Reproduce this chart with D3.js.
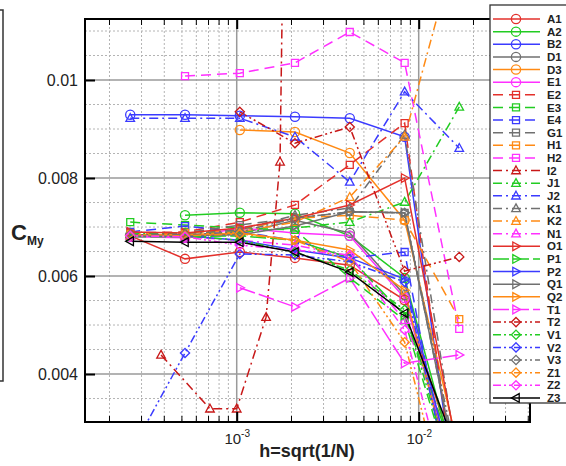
<!DOCTYPE html>
<html>
<head>
<meta charset="utf-8">
<script src="https://cdn.jsdelivr.net/npm/d3@7"></script>
<style>
  body { margin: 0; background: #fff; }
  text { font-family: "Liberation Sans", Arial, sans-serif; }
</style>
</head>
<body>
<div id="chart"></div>
<script>
// h values shared by most runs
var hValues = [0.00026, 0.00052, 0.00104, 0.00209, 0.00418, 0.00837, 0.0167];
// I2 was sampled at other h
var hI2 = [0.000384, 0.000713, 0.00100, 0.00145, 0.00173, 0.00209];

var names = ["A1","A2","B2","D1","D3","E1","E2","E3","E4","G1","H1","H2","I2","J1","J2","K1","K2","N1",
             "O1","P1","P2","Q1","Q2","T1","T2","V1","V2","V3","Z1","Z2","Z3"];

var A1 = [0.00682, 0.00635, 0.00649, 0.00637, 0.00622, 0.00551, 0.00204];
var A2 = [null, 0.00724, 0.00729, 0.00727, 0.00682, 0.00596, 0.00184];
var B2 = [0.00929, 0.00929, 0.00927, 0.00925, 0.00922, 0.00884, 0.00102];
var D1 = [0.00684, 0.00682, 0.00686, 0.00714, 0.00688, 0.00561, 0.00143];
var D3 = [null, null, 0.00898, 0.00894, 0.00851, 0.00714, 0.00239];
var E1 = [0.00680, 0.00678, 0.00698, 0.00688, 0.00682, 0.00555, 0.00163];
var E2 = [0.00688, 0.00690, 0.00710, 0.00745, 0.00827, 0.00912, 0.00102];
var E3 = [0.00710, 0.00704, 0.00698, 0.00694, 0.00596, 0.00510, 0.00143];
var E4 = [0.00690, 0.00702, 0.00690, 0.00673, 0.00637, 0.00649, 0.00061];
var G1 = [0.00686, 0.00688, 0.00704, 0.00718, 0.00731, 0.00729, 0.00184];
var H1 = [0.00686, 0.00688, 0.00694, 0.00718, 0.00724, 0.00714, 0.00512];
var H2 = [null, 0.01008, 0.01014, 0.01035, 0.01098, 0.01035, 0.00492];
var I2 = [0.00439, 0.00329, 0.00329, 0.00516, 0.00833, 0.0302];
var J1 = [0.00686, 0.00688, 0.00690, 0.00698, 0.00710, 0.00751, 0.00945];
var J2 = [0.00922, 0.00922, 0.00922, 0.00884, 0.00792, 0.00976, 0.00861];
var K1 = [0.00684, 0.00686, 0.00694, 0.00724, 0.00739, 0.00888, 0.00204];
var K2 = [0.00682, 0.00684, 0.00690, 0.00710, 0.00761, 0.00884, 0.01294];
var N1 = [0.00682, 0.00680, 0.00673, 0.00663, 0.00641, 0.00510, 0.00204];
var O1 = [0.00690, 0.00688, 0.00698, 0.00718, 0.00745, 0.00800, 0.00224];
var P1 = [0.00680, 0.00680, 0.00682, 0.00673, 0.00637, 0.00520, 0.00204];
var P2 = [0.00682, 0.00682, 0.00673, 0.00653, 0.00637, 0.00594, 0.00143];
var Q1 = [0.00682, 0.00682, 0.00684, 0.00702, 0.00731, 0.00729, 0.00184];
var Q2 = [0.00684, 0.00684, 0.00688, 0.00673, 0.00653, 0.00571, 0.00122];
var T1 = [null, null, 0.00576, 0.00537, 0.00596, 0.00422, 0.00439];
var T2 = [null, null, 0.00935, 0.00871, 0.00904, 0.00610, 0.00639];
var V1 = [0.00682, 0.00682, 0.00673, 0.00649, 0.00612, 0.00531, 0.00143];
var V2 = [0.00239, 0.00443, 0.00645, 0.00643, 0.00629, 0.00588, 0.00102];
var V3 = [0.00684, 0.00684, 0.00690, 0.00718, 0.00731, 0.00729, 0.00204];
var Z1 = [0.00682, 0.00682, 0.00686, 0.00673, 0.00629, 0.00465, 0.00020];
var Z2 = [0.00682, 0.00680, 0.00663, 0.00653, 0.00643, 0.00490, 0.00061];
var Z3 = [0.00671, 0.00669, 0.00669, 0.00649, 0.00608, 0.00524, 0.00233];

var yTicks = [0.004, 0.006, 0.008, 0.01];
var xTicks = [1e-3, 1e-2];
var xTickExp = ["-3", "-2"];

var seriesValues = {A1:A1,A2:A2,B2:B2,D1:D1,D3:D3,E1:E1,E2:E2,E3:E3,E4:E4,G1:G1,H1:H1,H2:H2,I2:I2,
  J1:J1,J2:J2,K1:K1,K2:K2,N1:N1,O1:O1,P1:P1,P2:P2,Q1:Q1,Q2:Q2,T1:T1,T2:T2,V1:V1,V2:V2,V3:V3,Z1:Z1,Z2:Z2,Z3:Z3};

// colours / line styles / markers
var red = "#e3302b", dred = "#c81818", green = "#22cc22", blue = "#3b3bff",
    gray = "#707070", orange = "#ff8a14", magenta = "#ff30ff";
var colorOf = {A1:red,A2:green,B2:blue,D1:gray,D3:orange,E1:magenta,E2:red,E3:green,E4:blue,G1:gray,H1:orange,H2:magenta,
  I2:dred,J1:green,J2:blue,K1:gray,K2:orange,N1:magenta,O1:red,P1:green,P2:blue,Q1:gray,Q2:orange,T1:magenta,
  T2:dred,V1:green,V2:blue,V3:gray,Z1:orange,Z2:magenta,Z3:"#000"};
function styleOf(n) {
  var g = names.indexOf(n);
  if (g < 6) return {dash: null, mark: "circle"};
  if (g < 12) return {dash: "10,6", mark: "square"};
  if (g < 18) return {dash: "9,4,2,4", mark: "tri"};
  if (g < 24) return {dash: (n == "P1" || n == "T1") ? "16,4" : null, mark: "right"};
  if (g < 30) return {dash: "8,3,2,3,2,3", mark: "diamond"};
  return {dash: null, mark: "left"};
}
var markPath = {
  square: "M-3.5,-3.5h7v7h-7Z",
  tri: "M0,-4.6L4.3,3.2L-4.3,3.2Z",
  right: "M-3.2,-4.3L4.6,0L-3.2,4.3Z",
  left: "M3.2,-4.3L-4.6,0L3.2,4.3Z",
  diamond: "M0,-4.6L4.6,0L0,4.6L-4.6,0Z"
};

var W = 566, H = 466;
var svg = d3.select("#chart").append("svg").attr("width", W).attr("height", H);

var x = d3.scaleLog().domain([1.467e-4, 0.04088]).range([85, 530]);
var y = d3.scaleLinear().domain([0.003021, 0.011245]).range([422, 19]);

// left edge of neighbouring panel
svg.append("path").attr("d", "M0,10H3V381H0").attr("fill", "none").attr("stroke", "#333").attr("stroke-width", 1.5);

// grid
var minorX = [];
[1e-4, 1e-3, 1e-2].forEach(function(dec) {
  for (var k = 2; k <= 9; k++) {
    var v = k * dec;
    if (v > x.domain()[0] && v < x.domain()[1]) minorX.push(v);
  }
});
var minorY = d3.range(0.0035, 0.0112, 0.0005).filter(function(v) {
  return yTicks.every(function(t) { return Math.abs(t - v) > 1e-7; });
});
var grid = svg.append("g");
grid.selectAll(".gx").data(minorX).enter().append("line")
  .attr("x1", d => x(d)).attr("x2", d => x(d)).attr("y1", 19).attr("y2", 422)
  .attr("stroke", "#b4b4b4").attr("stroke-width", 1).attr("stroke-dasharray", "2,2");
grid.selectAll(".gy").data(minorY).enter().append("line")
  .attr("x1", 85).attr("x2", 530).attr("y1", d => y(d)).attr("y2", d => y(d))
  .attr("stroke", "#b4b4b4").attr("stroke-width", 1).attr("stroke-dasharray", "2,2");
grid.selectAll(".gX").data(xTicks).enter().append("line")
  .attr("x1", d => x(d)).attr("x2", d => x(d)).attr("y1", 19).attr("y2", 422)
  .attr("stroke", "#9a9a9a").attr("stroke-width", 1.5);
grid.selectAll(".gY").data(yTicks).enter().append("line")
  .attr("x1", 85).attr("x2", 530).attr("y1", d => y(d)).attr("y2", d => y(d))
  .attr("stroke", "#9a9a9a").attr("stroke-width", 1.5);

// data
svg.append("clipPath").attr("id", "clip").append("rect").attr("x", 85).attr("y", 19).attr("width", 445).attr("height", 403);
var plot = svg.append("g").attr("clip-path", "url(#clip)");
var line = d3.line().defined(d => d.v != null).x(d => x(d.h)).y(d => y(d.v));

names.forEach(function(n) {
  var hs = n == "I2" ? hI2 : hValues;
  var pts = seriesValues[n].map(function(v, i) { return {h: hs[i], v: v}; });
  var st = styleOf(n);
  plot.append("path").datum(pts).attr("d", line).attr("fill", "none")
    .attr("stroke", colorOf[n]).attr("stroke-width", 1.5)
    .attr("stroke-dasharray", st.dash);
});
names.forEach(function(n) {
  var hs = n == "I2" ? hI2 : hValues;
  var pts = seriesValues[n].map(function(v, i) { return {h: hs[i], v: v}; }).filter(d => d.v != null);
  var st = styleOf(n);
  var sel = plot.selectAll(".m" + n).data(pts).enter();
  if (st.mark == "circle") {
    sel.append("circle").attr("cx", d => x(d.h)).attr("cy", d => y(d.v)).attr("r", 4.6)
      .attr("fill", "none").attr("stroke", colorOf[n]).attr("stroke-width", 1.3);
  } else {
    sel.append("path").attr("d", markPath[st.mark])
      .attr("transform", d => "translate(" + x(d.h) + "," + y(d.v) + ")")
      .attr("fill", "none").attr("stroke", colorOf[n]).attr("stroke-width", 1.3);
  }
});

// axes (ticks inside)
var axL = svg.append("g").attr("transform", "translate(85,0)")
  .call(d3.axisLeft(y).tickValues(yTicks).tickSize(-10).tickPadding(7).tickFormat(d => String(d)));
axL.select(".domain").remove();
axL.selectAll("line").attr("stroke", "#000").attr("stroke-width", 2);
axL.selectAll("text").attr("font-size", 16).attr("fill", "#222");

var axB = svg.append("g").attr("transform", "translate(0,422)")
  .call(d3.axisBottom(x).tickValues(xTicks).tickSize(-10).tickFormat(""));
axB.select(".domain").remove();
axB.selectAll("line").attr("stroke", "#000").attr("stroke-width", 2);
axB.selectAll(".tick").append("text").attr("fill", "#222").attr("font-size", 15)
  .attr("text-anchor", "middle").attr("y", 22)
  .each(function(d, i) {
    var t = d3.select(this);
    t.append("tspan").text("10");
    t.append("tspan").attr("font-size", 10).attr("dy", -7).text(xTickExp[i]);
  });
var axT = svg.append("g").attr("transform", "translate(0,19)")
  .call(d3.axisTop(x).tickValues(xTicks).tickSize(-10).tickFormat(""));
axT.select(".domain").remove();
axT.selectAll("line").attr("stroke", "#000").attr("stroke-width", 2);

// minor ticks top / bottom
svg.selectAll(".mtb").data(minorX).enter().append("line")
  .attr("x1", d => x(d)).attr("x2", d => x(d)).attr("y1", 19).attr("y2", 25)
  .attr("stroke", "#000").attr("stroke-width", 1);
svg.selectAll(".mtt").data(minorX).enter().append("line")
  .attr("x1", d => x(d)).attr("x2", d => x(d)).attr("y1", 416).attr("y2", 422)
  .attr("stroke", "#000").attr("stroke-width", 1);

// frame
svg.append("rect").attr("x", 85).attr("y", 19).attr("width", 445).attr("height", 403)
  .attr("fill", "none").attr("stroke", "#000").attr("stroke-width", 2);

// titles
svg.append("text").attr("x", 307).attr("y", 457).attr("text-anchor", "middle")
  .attr("font-size", 18).attr("font-weight", "bold").attr("fill", "#222").text("h=sqrt(1/N)");
var yt = svg.append("text").attr("x", 11).attr("y", 240).attr("font-weight", "bold").attr("fill", "#222");
yt.append("tspan").attr("font-size", 22).text("C");
yt.append("tspan").attr("font-size", 12).attr("dy", 5).text("My");

// legend
var lg = svg.append("g");
lg.append("rect").attr("x", 490).attr("y", 5).attr("width", 90).attr("height", 398)
  .attr("fill", "#fff").attr("stroke", "#333").attr("stroke-width", 1.3);
names.forEach(function(n, i) {
  var ly = 19 + i * 12.63;
  var st = styleOf(n);
  lg.append("line").attr("x1", 493).attr("x2", 540).attr("y1", ly).attr("y2", ly)
    .attr("stroke", colorOf[n]).attr("stroke-width", 1.5).attr("stroke-dasharray", st.dash);
  if (st.mark == "circle") {
    lg.append("circle").attr("cx", 516).attr("cy", ly).attr("r", 4.6)
      .attr("fill", "none").attr("stroke", colorOf[n]).attr("stroke-width", 1.3);
  } else {
    lg.append("path").attr("d", markPath[st.mark]).attr("transform", "translate(516," + ly + ")")
      .attr("fill", "none").attr("stroke", colorOf[n]).attr("stroke-width", 1.3);
  }
  lg.append("text").attr("x", 547).attr("y", ly).attr("dy", "0.36em")
    .attr("font-size", 11.5).attr("font-weight", "bold").attr("fill", "#222").text(n);
});
</script>
</body>
</html>
